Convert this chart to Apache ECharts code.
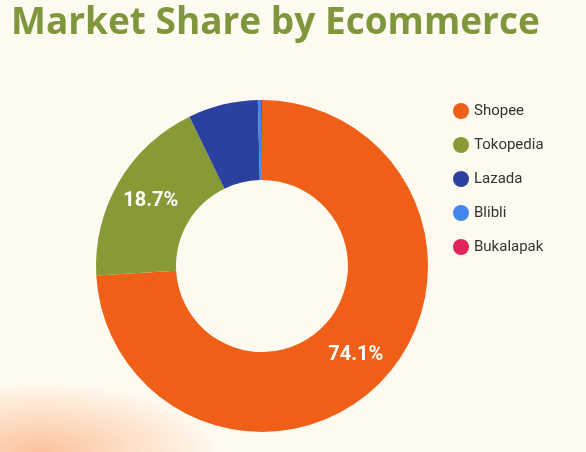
<!DOCTYPE html>
<html><head><meta charset="utf-8">
<script src="https://cdn.jsdelivr.net/npm/echarts@6/dist/echarts.min.js"></script>
<style>html,body{margin:0;padding:0;background:#fffaf0;}#c{width:586px;height:452px;
background:radial-gradient(ellipse 180px 70px at 40px 452px, rgba(250,170,120,0.7), rgba(255,250,240,0) 100%),#fffaf0;}</style>
</head><body><div id="c"></div>
<script>
const categories=["Shopee","Tokopedia","Lazada","Blibli","Bukalapak"];
const values=[74.1,18.7,6.8,0.3,0.1];
const colors=["#ef5f17","#889a36","#2a41a0","#4286f0","#e0245a"];
const chart=echarts.init(document.getElementById('c'));
chart.setOption({
 title:{text:"Market Share by Ecommerce",left:6,top:0,textStyle:{fontFamily:"Open Sans",fontWeight:"bold",fontSize:37,color:"#7f963c"}},
 legend:{orient:"vertical",left:448,top:98,itemGap:18,icon:"circle",itemWidth:16,itemHeight:16,
  textStyle:{fontFamily:"Roboto",fontSize:15,color:"#333"},data:categories},
 series:[{type:"pie",center:[262,266],radius:[86,166],startAngle:90,clockwise:true,
  label:{show:true,position:"inside",formatter:p=>p.value>=10?p.value.toFixed(1)+"%":"",
   fontFamily:"Roboto",fontWeight:"bold",fontSize:20,color:"#fff"},
  labelLine:{show:false},
  data:categories.map((n,i)=>({name:n,value:values[i],itemStyle:{color:colors[i]}}))}]
});
</script></body></html>
